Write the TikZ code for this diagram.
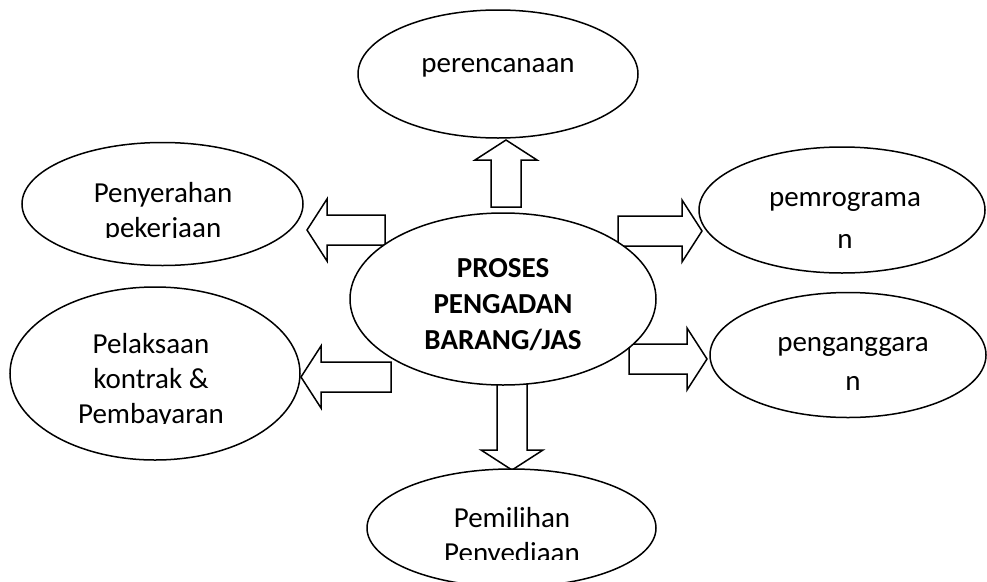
\documentclass[tikz,border=0pt]{standalone}
\usepackage{fontspec}
\setmainfont{Carlito}
\usetikzlibrary{shapes.geometric}

\tikzset{
  bubble/.style={ellipse,draw,fill=white,line width=1.5pt,inner sep=0pt},
  bubbletext/.style={align=center,inner sep=0pt,anchor=base,font=\fontsize{29}{35}\selectfont},
  fatarrow/.style={draw,fill=white,line width=1.5pt,line join=miter},
}

\begin{document}
\begin{tikzpicture}[x=1pt,y=-1pt]
  \useasboundingbox (0,0) rectangle (987,581);
  \clip (0,0) rectangle (987,581);
  % block arrows: tail x / tail y / angle / length
  \foreach \x/\y/\a/\l in {506/207/90/67, 385/230/180/78, 391/377/180/90,
                           618/231/0/84, 629/359/0/78, 512/383/-90/87} {
    \begin{scope}[shift={(\x,\y)},rotate=\a]
      \path[fatarrow] (0,-15) -- (\l-20,-15) -- (\l-20,-31) -- (\l,0)
        -- (\l-20,31) -- (\l-20,15) -- (0,15) -- cycle;
    \end{scope}
  }
  % ellipses
  \node[bubble,minimum width=280pt,minimum height=128pt] (plan) at (498,74) {};
  \node[bubble,minimum width=281pt,minimum height=123pt] (serah) at (162.5,204) {};
  \node[bubble,minimum width=290pt,minimum height=173pt] (laksana) at (155,373.5) {};
  \node[bubble,minimum width=306pt,minimum height=172pt] (proses) at (503,299) {};
  \node[bubble,minimum width=286pt,minimum height=126pt] (program) at (842,210) {};
  \node[bubble,minimum width=276pt,minimum height=125pt] (anggar) at (848,355) {};
  \node[bubble,minimum width=289pt,minimum height=118pt] (pilih) at (511.5,528) {};
  % texts (anchored at the baseline of the last line)
  \node[bubbletext] (plan-t) at (498,72) {perencanaan};
  \node[bubbletext,font=\fontsize{29}{42}\selectfont] (program-t) at (845,248) {pemrograma\\n};
  \node[bubbletext,font=\fontsize{29}{39}\selectfont] (anggar-t) at (853,390) {penganggara\\n};
  \node[bubbletext,font=\fontsize{29}{36}\selectfont\bfseries]
    (proses-t) at (503,349) {PROSES\\PENGADAN\\BARANG/JAS};
  \begin{scope}
    \clip (0,0) rectangle (987,237);
    \node[bubbletext] (serah-t) at (163,237) {Penyerahan\\pekerjaan};
  \end{scope}
  \begin{scope}
    \clip (0,0) rectangle (987,423);
    \node[bubbletext] (laksana-t) at (151,423) {Pelaksaan\\kontrak \&\\Pembayaran};
  \end{scope}
  \begin{scope}
    \clip (0,0) rectangle (987,559);
    \node[bubbletext] (pilih-t) at (512,562) {Pemilihan\\Penyediaan};
  \end{scope}
\end{tikzpicture}
\end{document}
